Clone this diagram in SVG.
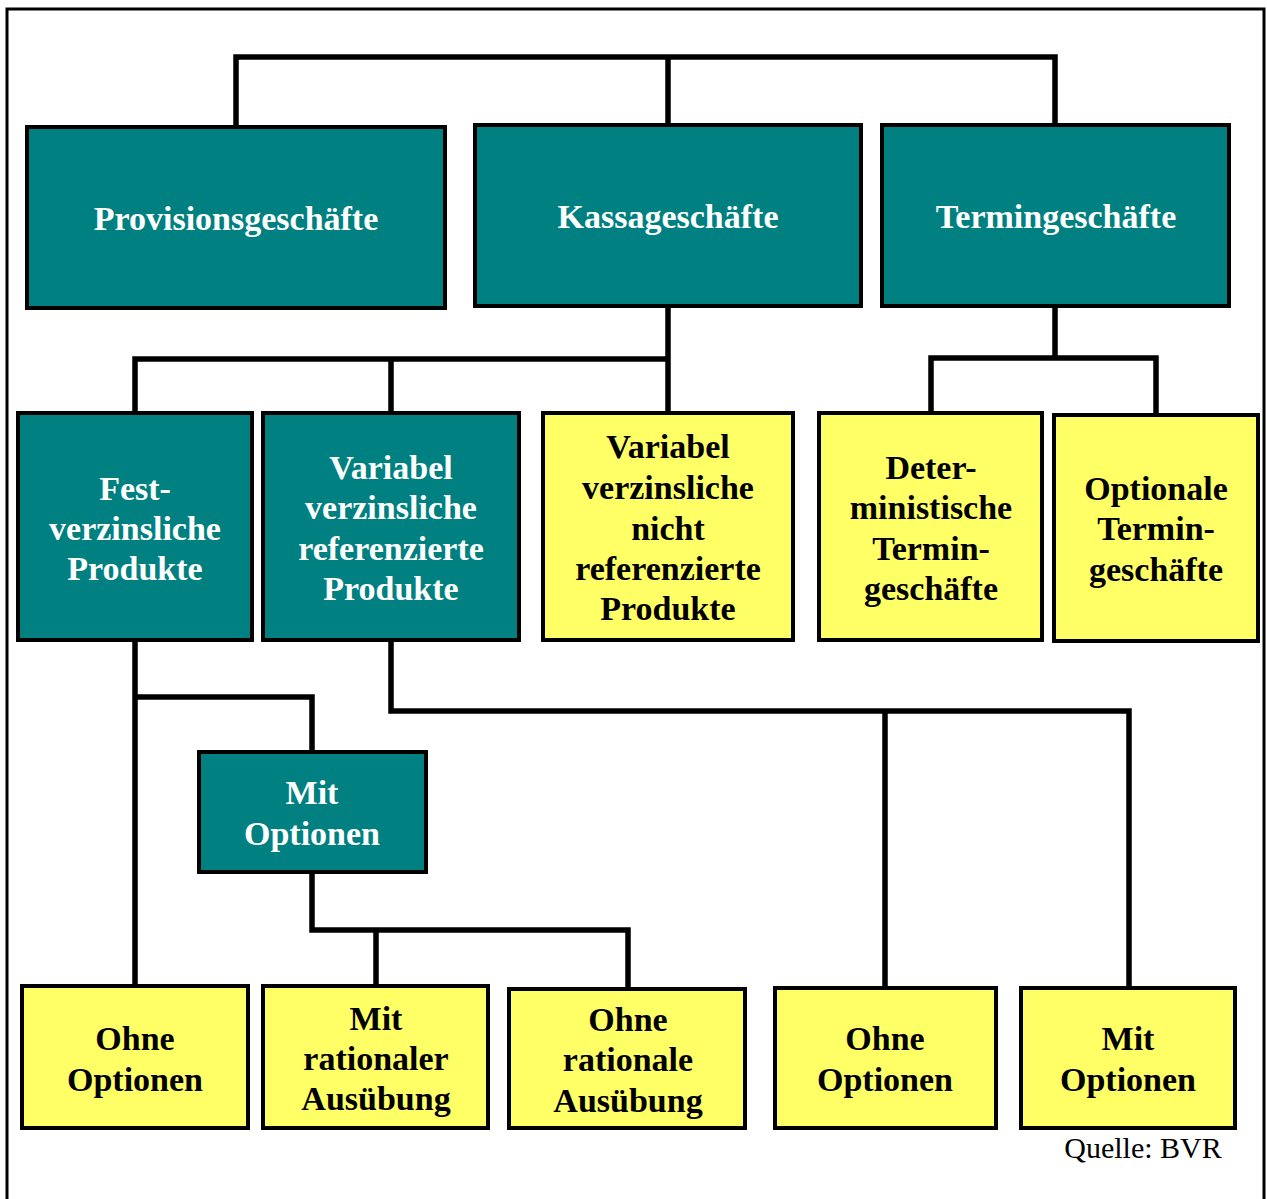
<svg xmlns="http://www.w3.org/2000/svg" width="1267" height="1199" viewBox="0 0 1267 1199">
<style>
.teal{fill:#008080;stroke:#000;stroke-width:4}
.yel{fill:#FFFF66;stroke:#000;stroke-width:4}
.tw{font-family:"Liberation Serif","Times New Roman",serif;font-weight:bold;font-size:34px;fill:#fff;text-anchor:middle}
.tb{font-family:"Liberation Serif","Times New Roman",serif;font-weight:bold;font-size:34px;fill:#000;text-anchor:middle}
.con{fill:none;stroke:#000;stroke-width:5.5;stroke-linejoin:miter}
</style>
<rect x="0" y="0" width="1267" height="1199" fill="#fff"/>
<rect x="7" y="9" width="1257" height="1210" fill="none" stroke="#000" stroke-width="3"/>
<g id="connectors">
<path class="con" d="M236,127 V57 H1055 V125 M668,57 V125"/>
<path class="con" d="M668,306 V359 H135 V413 M391,359 V413 M668,359 V413"/>
<path class="con" d="M1055,306 V358 H931 V413 M1055,358 H1156 V415"/>
<path class="con" d="M135,640 V986 M135,697 H312 V752"/>
<path class="con" d="M312,872 V930 H628 V989 M376,930 V986"/>
<path class="con" d="M391,640 V711 H1129 V988 M885,711 V988"/>
</g>
<g id="provisionsgeschaefte"><rect class="teal" x="27" y="127" width="418" height="181"/><text class="tw" x="236" y="230">Provisionsgeschäfte</text></g>
<g id="kassageschaefte"><rect class="teal" x="475" y="125" width="386" height="181"/><text class="tw" x="668" y="228">Kassageschäfte</text></g>
<g id="termingeschaefte"><rect class="teal" x="882" y="125" width="347" height="181"/><text class="tw" x="1056" y="228">Termingeschäfte</text></g>
<g id="festverzinsliche"><rect class="teal" x="18" y="413" width="234" height="227"/><text class="tw" x="135" y="500">Fest-</text><text class="tw" x="135" y="540">verzinsliche</text><text class="tw" x="135" y="580">Produkte</text></g>
<g id="variabel-ref"><rect class="teal" x="263" y="413" width="256" height="227"/><text class="tw" x="391" y="479">Variabel</text><text class="tw" x="391" y="519">verzinsliche</text><text class="tw" x="391" y="560">referenzierte</text><text class="tw" x="391" y="600">Produkte</text></g>
<g id="variabel-nicht-ref"><rect class="yel" x="543" y="413" width="250" height="227"/><text class="tb" x="668" y="458">Variabel</text><text class="tb" x="668" y="499">verzinsliche</text><text class="tb" x="668" y="540">nicht</text><text class="tb" x="668" y="580">referenzierte</text><text class="tb" x="668" y="620">Produkte</text></g>
<g id="deterministische"><rect class="yel" x="819" y="413" width="223" height="227"/><text class="tb" x="931" y="479">Deter-</text><text class="tb" x="931" y="519">ministische</text><text class="tb" x="931" y="560">Termin-</text><text class="tb" x="931" y="600">geschäfte</text></g>
<g id="optionale"><rect class="yel" x="1054" y="415" width="204" height="226"/><text class="tb" x="1156" y="500">Optionale</text><text class="tb" x="1156" y="540">Termin-</text><text class="tb" x="1156" y="581">geschäfte</text></g>
<g id="mit-optionen-1"><rect class="teal" x="199" y="752" width="227" height="120"/><text class="tw" x="312" y="804">Mit</text><text class="tw" x="312" y="845">Optionen</text></g>
<g id="ohne-optionen-1"><rect class="yel" x="22" y="986" width="226" height="142"/><text class="tb" x="135" y="1050">Ohne</text><text class="tb" x="135" y="1091">Optionen</text></g>
<g id="mit-rationaler"><rect class="yel" x="263" y="986" width="225" height="142"/><text class="tb" x="376" y="1030">Mit</text><text class="tb" x="376" y="1070">rationaler</text><text class="tb" x="376" y="1110">Ausübung</text></g>
<g id="ohne-rationale"><rect class="yel" x="509" y="989" width="236" height="139"/><text class="tb" x="628" y="1031">Ohne</text><text class="tb" x="628" y="1071">rationale</text><text class="tb" x="628" y="1112">Ausübung</text></g>
<g id="ohne-optionen-2"><rect class="yel" x="775" y="988" width="221" height="140"/><text class="tb" x="885" y="1050">Ohne</text><text class="tb" x="885" y="1091">Optionen</text></g>
<g id="mit-optionen-2"><rect class="yel" x="1021" y="988" width="214" height="140"/><text class="tb" x="1128" y="1050">Mit</text><text class="tb" x="1128" y="1091">Optionen</text></g>
<text x="1143" y="1158" font-family="'Liberation Serif','Times New Roman',serif" font-size="30" text-anchor="middle" fill="#000">Quelle: BVR</text>
</svg>
